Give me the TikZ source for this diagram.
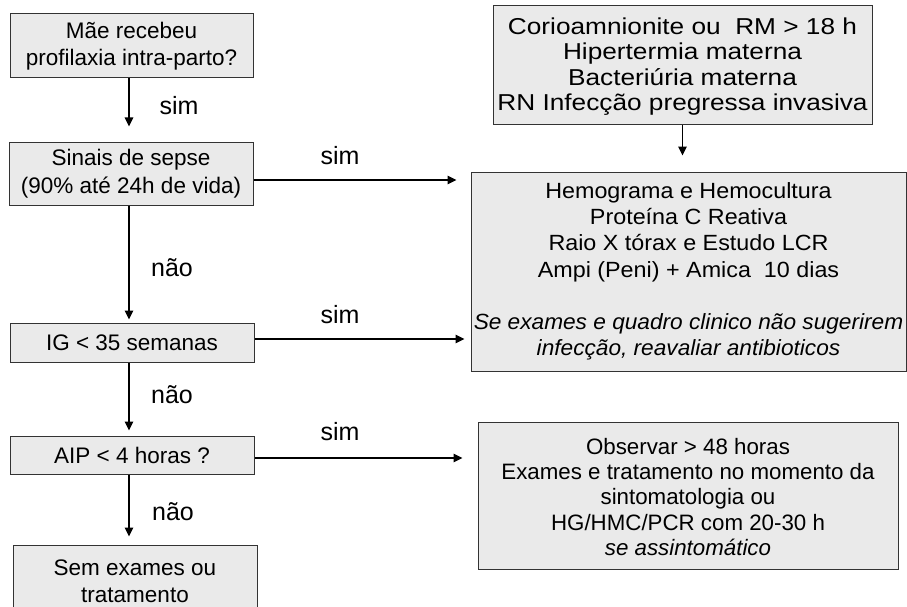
\documentclass[tikz,border=0pt]{standalone}
\usepackage{fontspec}
\setmainfont{Liberation Sans}
\newfontfamily\wideA[FakeStretch=1.14]{Liberation Sans}
\newfontfamily\wideB[FakeStretch=1.06]{Liberation Sans}
\newfontfamily\wideC[FakeStretch=1.03]{Liberation Sans}
\usetikzlibrary{arrows.meta}
\definecolor{boxfill}{HTML}{EAEAEA}
\definecolor{boxline}{HTML}{333333}
\tikzset{
  box/.style={draw=boxline, fill=boxfill, line width=1pt, inner sep=0pt, align=center, anchor=center},
  leftbox/.style={box, font=\fontsize{22.5}{27.5}\selectfont},
  arr/.style={line width=1.6pt, -{Triangle[length=9pt,width=8.5pt]}},
  lab/.style={font=\fontsize{25}{28}\selectfont, inner sep=0pt, anchor=center}
}
\begin{document}
\begin{tikzpicture}[x=1pt,y=-1pt]
\useasboundingbox (0,0) rectangle (907,607);
\clip (0,0) rectangle (907,607);
\fill[white] (0,0) rectangle (907,607);
% left column
\node[leftbox, minimum width=243pt, minimum height=64pt] (mae) at (131.5,46) {Mãe recebeu\\profilaxia intra-parto?};
\node[leftbox, minimum width=244pt, minimum height=63pt] (sinais) at (131,173.5) {Sinais de sepse\\(90\% até 24h de vida)};
\node[leftbox, minimum width=244pt, minimum height=39pt] (ig) at (132,342.5) {IG < 35 semanas};
\node[leftbox, minimum width=244pt, minimum height=38pt] (aip) at (132,455) {AIP < 4 horas ?};
\node[leftbox, minimum width=244pt, minimum height=72pt] (sem) at (135,581) {Sem exames ou\\tratamento};
% right column
\node[box, minimum width=379pt, minimum height=119pt, font=\wideA\fontsize{23}{25.5}\selectfont] (topr) at (682.5,65.5)
  {\rule{0pt}{19pt}Corioamnionite ou\ \ RM > 18 h\\Hipertermia materna\\Bacteriúria materna\\RN Infecção pregressa invasiva};
\node[box, minimum width=435pt, minimum height=199pt, font=\wideB\fontsize{22}{26.2}\selectfont] (hemo) at (688.5,271.5)
  {Hemograma e Hemocultura\\Proteína C Reativa\\Raio X tórax e Estudo LCR\\Ampi (Peni) + Amica\ \ 10 dias\\[26.2pt]
   \wideC\itshape Se exames e quadro clinico não sugerirem\\\wideC\itshape infecção, reavaliar antibioticos};
\node[box, minimum width=420pt, minimum height=147pt, font=\fontsize{22.3}{25.2}\selectfont] (obs) at (688,495.5)
  {\rule{0pt}{19pt}Observar > 48 horas\\Exames e tratamento no momento da\\sintomatologia ou\\HG/HMC/PCR com 20-30 h\\\itshape se assintomático};
% helper coordinates
\coordinate (vx) at (129,0);
\coordinate (h1) at (0,180);
\coordinate (h2) at (0,339);
\coordinate (h3) at (0,458);
% vertical arrows
\draw[arr, shorten >=15pt] (mae.south -| vx) -- (sinais.north -| vx);
\draw[arr, shorten >=3pt] (sinais.south -| vx) -- (ig.north -| vx);
\draw[arr, shorten >=5pt] (ig.south -| vx) -- (aip.north -| vx);
\draw[arr, shorten >=8pt] (aip.south -| vx) -- (sem.north -| vx);
\draw[arr, shorten >=16pt] (topr.south) -- (hemo.north -| topr.south);
% horizontal arrows
\draw[arr, shorten >=14pt] (sinais.east |- h1) -- (hemo.west |- h1);
\draw[arr, shorten >=6pt] (ig.east |- h2) -- (hemo.west |- h2);
\draw[arr, shorten >=15pt] (aip.east |- h3) -- (obs.west |- h3);
% labels
\node[lab] (l1) at (179,106) {sim};
\node[lab] (l2) at (340,156) {sim};
\node[lab] (l3) at (340,315) {sim};
\node[lab] (l4) at (340,432) {sim};
\node[lab] (l5) at (172,268) {não};
\node[lab] (l6) at (172,395) {não};
\node[lab] (l7) at (173,512) {não};
\end{tikzpicture}
\end{document}
